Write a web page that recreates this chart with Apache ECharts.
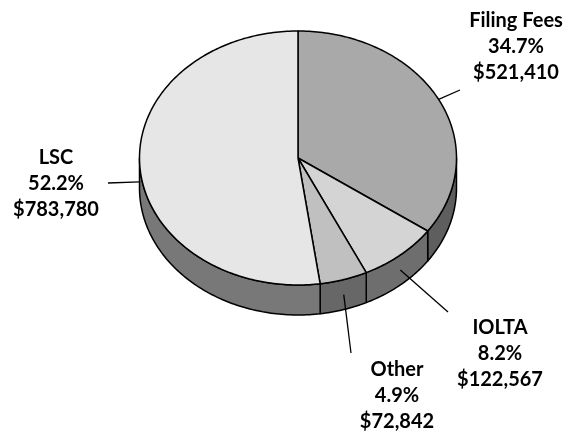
<!DOCTYPE html>
<html>
<head>
<meta charset="utf-8">
<script src="https://cdn.jsdelivr.net/npm/echarts@6/dist/echarts.min.js"></script>
<style>
  html, body { margin: 0; background: #fff; }
  #main { width: 566px; height: 432px; }
</style>
</head>
<body>
<div id="main"></div>
<script>
// data
const categories = ['Filing Fees', 'IOLTA', 'Other', 'LSC'];
const amounts = [521410, 122567, 72842, 783780];

// styles / layout
const topColors = ['#a9a9a9', '#d4d4d4', '#c0c0c0', '#e6e6e6'];
const sideColors = ['#5e5e5e', '#6e6e6e', '#676767', '#787878'];
const labelPos = [[516, 47], [500, 354], [397, 396], [56, 184]];
const leaderEnd = [[460, 90], [448, 312], [351, 353], [108, 183]];

const total = amounts.reduce((a, b) => a + b, 0);
const starts = [];
let acc = 0;
amounts.forEach(v => { starts.push(acc / total); acc += v; });

// 3d pie geometry (ellipse seen from above)
const cx = 298, cy = 158, rx = 158.5, ry = 127, depth = 30;

function pt(a, dy) {
  return [cx + rx * Math.sin(a), cy - ry * Math.cos(a) + dy];
}
function arc(a0, a1, dy) {
  const n = Math.max(2, Math.ceil((a1 - a0) / (Math.PI / 180)));
  const p = [];
  for (let i = 0; i <= n; i++) p.push(pt(a0 + (a1 - a0) * i / n, dy));
  return p;
}
function angles(i) {
  const a0 = starts[i] * 2 * Math.PI;
  return [a0, a0 + amounts[i] / total * 2 * Math.PI];
}
function money(v) {
  return '$' + String(v).replace(/\B(?=(\d{3})+(?!\d))/g, ',');
}

function renderSide(params, api) {
  const i = params.dataIndex;
  let [a0, a1] = angles(i);
  // only the front half of the rim is visible
  a0 = Math.max(a0, Math.PI / 2);
  a1 = Math.min(a1, 1.5 * Math.PI);
  if (a1 <= a0) return null;
  const pts = arc(a0, a1, 0).concat(arc(a0, a1, depth).reverse());
  return {
    type: 'polygon',
    shape: { points: pts },
    style: { fill: sideColors[i], stroke: '#000', lineWidth: 1.5, lineJoin: 'round' }
  };
}

function renderTop(params, api) {
  const i = params.dataIndex;
  const v = api.value(0);
  const [a0, a1] = angles(i);
  const pts = [[cx, cy]].concat(arc(a0, a1, 0));
  const mid = (a0 + a1) / 2;
  const front = mid > Math.PI / 2 && mid < 1.5 * Math.PI;
  const s = pt(mid, front ? depth / 2 : 0);
  const pct = (v / total * 100).toFixed(1) + '%';
  return {
    type: 'group',
    children: [
      {
        type: 'polygon',
        shape: { points: pts },
        style: { fill: topColors[i], stroke: '#000', lineWidth: 1.5, lineJoin: 'round' }
      },
      {
        type: 'line',
        shape: { x1: s[0], y1: s[1], x2: leaderEnd[i][0], y2: leaderEnd[i][1] },
        style: { stroke: '#000', lineWidth: 1.3 }
      },
      {
        type: 'text',
        x: labelPos[i][0],
        y: labelPos[i][1],
        style: {
          text: categories[i] + '\n' + pct + '\n' + money(v),
          fill: '#000',
          font: 'bold 20px Lato',
          align: 'center',
          verticalAlign: 'middle',
          lineHeight: 26
        }
      }
    ]
  };
}

const chart = echarts.init(document.getElementById('main'));
chart.setOption({
  backgroundColor: '#fff',
  animation: false,
  series: [
    {
      type: 'custom',
      coordinateSystem: 'none',
      silent: true,
      z: 1,
      renderItem: renderSide,
      data: amounts
    },
    {
      type: 'custom',
      coordinateSystem: 'none',
      silent: true,
      z: 2,
      renderItem: renderTop,
      data: amounts
    }
  ]
});
</script>
</body>
</html>
